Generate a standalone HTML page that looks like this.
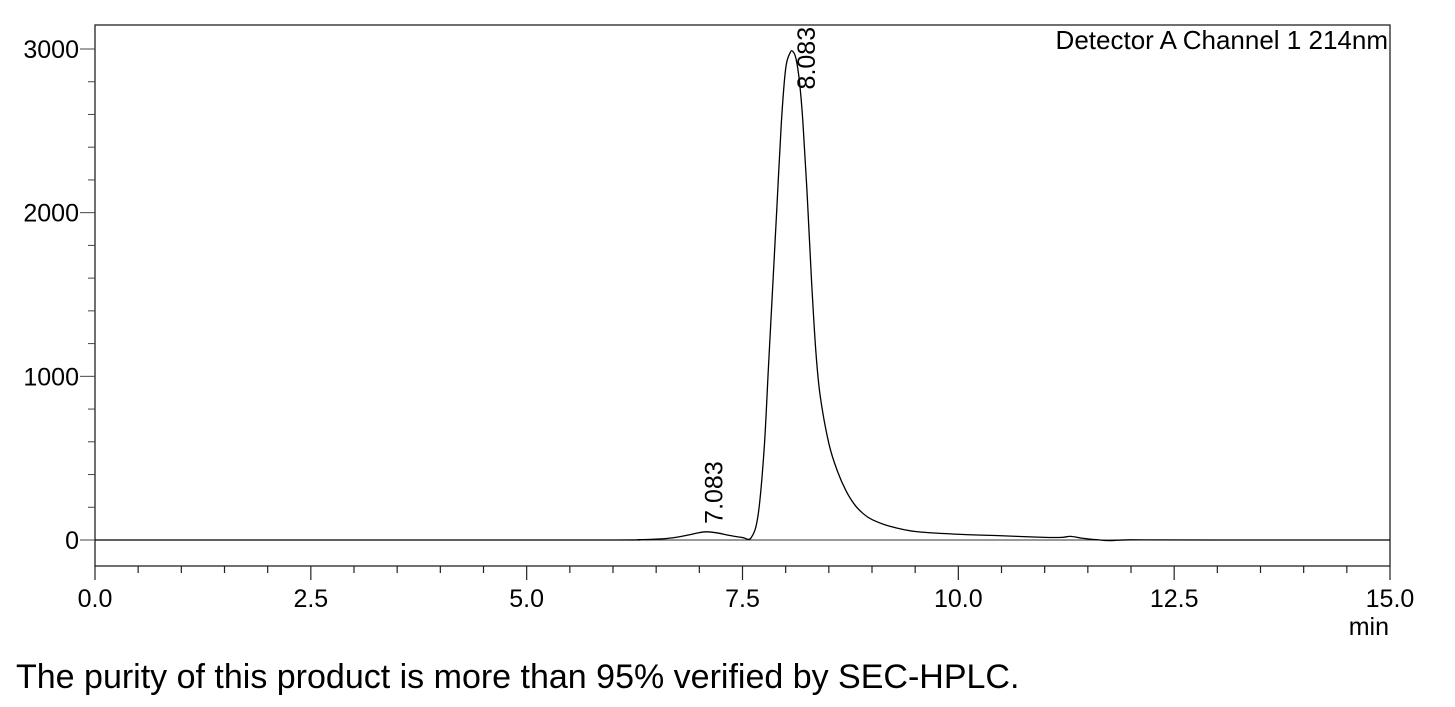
<!DOCTYPE html>
<html><head><meta charset="utf-8"><style>
html,body{margin:0;padding:0;background:#fff;width:1455px;height:707px;overflow:hidden}
svg{display:block}
text{font-family:"Liberation Sans",Arial,sans-serif;fill:#000}
</style></head><body>
<svg id="chart" width="1455" height="707" viewBox="0 0 1455 707">
<rect x="95" y="25" width="1295" height="541" fill="none" stroke="#222" stroke-width="1.3"/>
<g id="axes"></g>
<path id="baseline" fill="none" stroke="#333" stroke-width="1"/>
<path id="trace" fill="none" stroke="#000" stroke-width="1.3"/>
<g id="labels"></g>
<text x="1388" y="49" text-anchor="end" font-size="26">Detector A Channel 1 214nm</text>
<text x="1389" y="635" text-anchor="end" font-size="25">min</text>
<text x="16" y="688" font-size="34">The purity of this product is more than 95% verified by SEC-HPLC.</text>
</svg>
<script>
const times = [0,3,6.0,6.3,6.5,6.7,6.85,7.0,7.083,7.2,7.35,7.5,7.6,7.68,7.75,7.8,7.85,7.9,7.95,8.0,8.05,8.083,8.12,8.16,8.2,8.25,8.3,8.35,8.4,8.5,8.6,8.7,8.8,8.9,9.0,9.2,9.5,10.0,10.5,11.0,11.2,11.3,11.45,11.6,11.75,12.0,13.0,15.0];
const values = [0,0,0,2,5,14,28,45,50,44,28,15,14,150,550,1050,1550,2050,2550,2880,2975,2985,2940,2800,2550,2100,1580,1150,880,590,420,300,215,160,125,85,52,35,26,16,16,22,10,2,-4,1,0,0];
const yTicks = [0,1000,2000,3000];
const xTickLabels = ["0.0","2.5","5.0","7.5","10.0","12.5","15.0"];
const peakTimes = [7.083,8.083];
const peakHeights = [50,2985];

const X0=95,X1=1390,Y0=540,PXU=0.16367;
const xs=t=>X0+(t/15)*(X1-X0);
const ys=v=>Y0-v*PXU;
const ns="http://www.w3.org/2000/svg";
const axes=document.getElementById('axes');
function mk(tag,attrs,parent){const e=document.createElementNS(ns,tag);for(const k in attrs)e.setAttribute(k,attrs[k]);parent.appendChild(e);return e;}

for(let v=0;v<=3000;v+=200){
  const major=v%1000===0;
  const l=mk('line',{x1:major?80:88,x2:95,y1:ys(v),y2:ys(v),stroke:'#444','stroke-width':1},axes);
  
  
}
yTicks.forEach(v=>{
  const t=mk('text',{x:79,y:ys(v)+9,'text-anchor':'end','font-size':25},axes);
  
  
  t.textContent=v;
});
for(let i=0;i<=30;i++){
  const t=i*0.5;const major=i%5===0;
  const l=mk('line',{x1:xs(t),x2:xs(t),y1:566,y2:major?580:573,stroke:'#222','stroke-width':1.2},axes);
  
  
}
xTickLabels.forEach((s,i)=>{
  const t=mk('text',{x:xs(parseFloat(s)),y:607,'text-anchor':'middle','font-size':25},axes);
  
  
  t.textContent=s;
});
document.getElementById('baseline').setAttribute('d',`M${xs(0.25)},${ys(0)} L${X1},${ys(0)}`);
const pts=times.map((t,i)=>[xs(t),ys(values[i])]);
let d=`M${pts[0][0]},${pts[0][1]}`;
for(let i=0;i<pts.length-1;i++){
  const p0=pts[Math.max(0,i-1)],p1=pts[i],p2=pts[i+1],p3=pts[Math.min(pts.length-1,i+2)];
  const c1=[p1[0]+(p2[0]-p0[0])/6,p1[1]+(p2[1]-p0[1])/6];
  const c2=[p2[0]-(p3[0]-p1[0])/6,p2[1]-(p3[1]-p1[1])/6];
  d+=` C${c1[0]},${c1[1]} ${c2[0]},${c2[1]} ${p2[0]},${p2[1]}`;
}
document.getElementById('trace').setAttribute('d',d);
const lg=document.getElementById('labels');
peakTimes.forEach((t,i)=>{
  const x=xs(t)+14, y=ys(peakHeights[i])-8;
  const off = i===1 ? 46 : 0;
  const e=mk('text',{x:0,y:0,'font-size':25,transform:`translate(${x+(i===1?8:2)},${y+off}) rotate(-90)`},lg);
  
  
  e.textContent=t.toFixed(3);
});
</script>
</body></html>
